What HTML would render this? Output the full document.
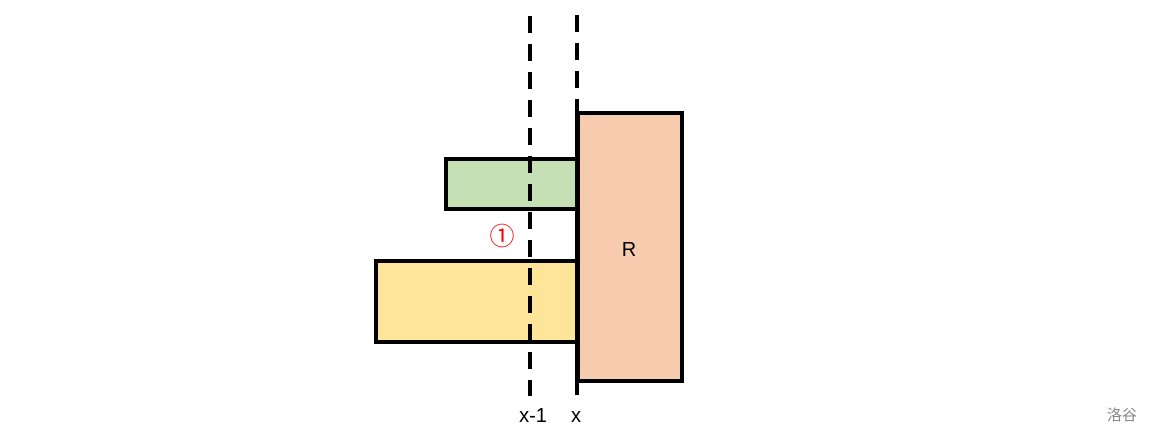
<!DOCTYPE html>
<html><head><meta charset="utf-8"><style>body{margin:0;background:#fff}svg{display:block}</style></head><body>
<svg width="1156" height="442" xmlns="http://www.w3.org/2000/svg">
<rect width="1156" height="442" fill="#fff"/>
<rect x="578" y="113" width="104" height="268" fill="#f7cbad" stroke="#000" stroke-width="4"/>
<rect x="446" y="159" width="131" height="50" fill="#c5e0b4" stroke="#000" stroke-width="4"/>
<rect x="376" y="261" width="201" height="81" fill="#fee599" stroke="#000" stroke-width="4"/>
<line x1="530" y1="16" x2="530" y2="396" stroke="#000" stroke-width="4" stroke-dasharray="17 11"/>
<line x1="577" y1="15" x2="577" y2="99" stroke="#000" stroke-width="4" stroke-dasharray="17 11"/>
<line x1="577" y1="99" x2="577" y2="395" stroke="#000" stroke-width="4"/>
<g font-family="Liberation Sans, Noto Sans CJK SC, sans-serif" font-size="20" text-anchor="middle">
<text x="629" y="256" fill="#000">R</text>
<text x="533" y="422" fill="#000">x-1</text>
<text x="576" y="422" fill="#000">x</text>
<text x="502" y="245" fill="#f00" font-size="25">①</text>
<text x="1122" y="420" fill="#888" font-size="15">洛谷</text>
</g>
</svg>
</body></html>
